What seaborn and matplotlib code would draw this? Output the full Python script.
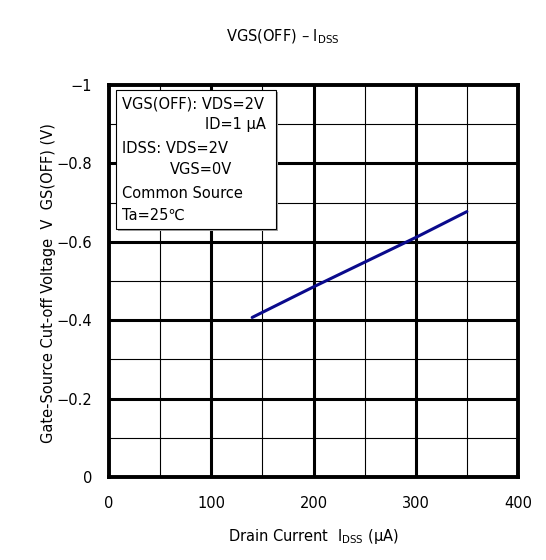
import matplotlib
matplotlib.use("Agg")
import matplotlib.pyplot as plt
import seaborn as sns
import pandas as pd
from matplotlib.patches import Rectangle

# Data
idss_uA = [140, 200, 250, 300, 350]
vgs_off = [-0.407, -0.485, -0.548, -0.611, -0.677]
x_ticks = [0, 100, 200, 300, 400]
y_ticks = [0, -0.2, -0.4, -0.6, -0.8, -1]
y_tick_labels = ["0", "\u22120.2", "\u22120.4", "\u22120.6", "\u22120.8", "\u22121"]
cond_lines = ["VGS(OFF): VDS=2V", "ID=1 \u03bcA", "IDSS: VDS=2V", "VGS=0V",
              "Common Source", "Ta=25\u2103"]

sns.set_style("white")
plt.rcParams['font.family'] = ['DejaVu Sans', 'Noto Sans CJK JP']
plt.rcParams['text.color'] = 'black'
plt.rcParams['xtick.color'] = 'black'
plt.rcParams['ytick.color'] = 'black'

df = pd.DataFrame({"IDSS": idss_uA, "VGS": vgs_off})

fig = plt.figure(figsize=(5.46, 5.6), dpi=100)
ax = fig.add_axes([109/546, 1-477/560, (518-109)/546, (477-85)/560])

# grid
for xv in range(50, 400, 50):
    lw = 2.2 if xv % 100 == 0 else 0.8
    ax.axvline(xv, color="black", lw=lw, zorder=1)
for i in range(1, 10):
    yv = -i / 10
    lw = 2.2 if i % 2 == 0 else 0.8
    ax.axhline(yv, color="black", lw=lw, zorder=1)

sns.lineplot(data=df, x="IDSS", y="VGS", ax=ax, color="#0a0a8c", lw=2.2, zorder=3)

ax.set_xlim(0, 400)
ax.set_ylim(0, -1)
ax.set_xticks(x_ticks)
ax.set_xticklabels([str(v) for v in x_ticks])
ax.set_yticks(y_ticks)
ax.set_yticklabels(y_tick_labels)
ax.tick_params(axis="both", length=0, labelsize=10.5, colors="black")
ax.tick_params(axis="x", pad=14)
ax.tick_params(axis="y", pad=12)
for s in ax.spines.values():
    s.set_linewidth(2.8)
    s.set_color("black")
ax.set_xlabel("")
ax.set_ylabel("")

# condition box
bx0, bx1 = (116-109)/409, (276-109)/409
by0, by1 = (477-229)/392, (477-90)/392
ax.add_patch(Rectangle((bx0 + 0.005, by0 - 0.005), bx1 - bx0, by1 - by0,
                       transform=ax.transAxes, facecolor="#a0a0a0",
                       edgecolor="none", zorder=4))
ax.add_patch(Rectangle((bx0, by0), bx1 - bx0, by1 - by0, transform=ax.transAxes,
                       facecolor="white", edgecolor="black", lw=0.8, zorder=5))

pos = [(122, 104), (205, 125), (122, 149), (170, 170), (122, 193), (122, 215)]
for (px, py), t in zip(pos, cond_lines):
    fig.text(px/546, 1-py/560, t, fontsize=10.5, va="center", ha="left",
             zorder=6, color="black", family=['DejaVu Sans', 'Noto Sans CJK JP'])

# title and axis labels
fig.text(283/546, 1-37/560, "VGS(OFF) \u2013 $\\mathregular{I_{DSS}}$",
         fontsize=10.5, ha="center", va="center", color="black")
fig.text(313/546, 1-537/560, "Drain Current  $\\mathregular{I_{DSS}}$ (\u03bcA)",
         fontsize=10.5, ha="center", va="center", color="black")
fig.text(48/546, 1-283/560, "Gate-Source Cut-off Voltage  V  GS(OFF) (V)",
         fontsize=10.5, ha="center", va="center", rotation=90, color="black")

fig.savefig("out.png", dpi=100)
